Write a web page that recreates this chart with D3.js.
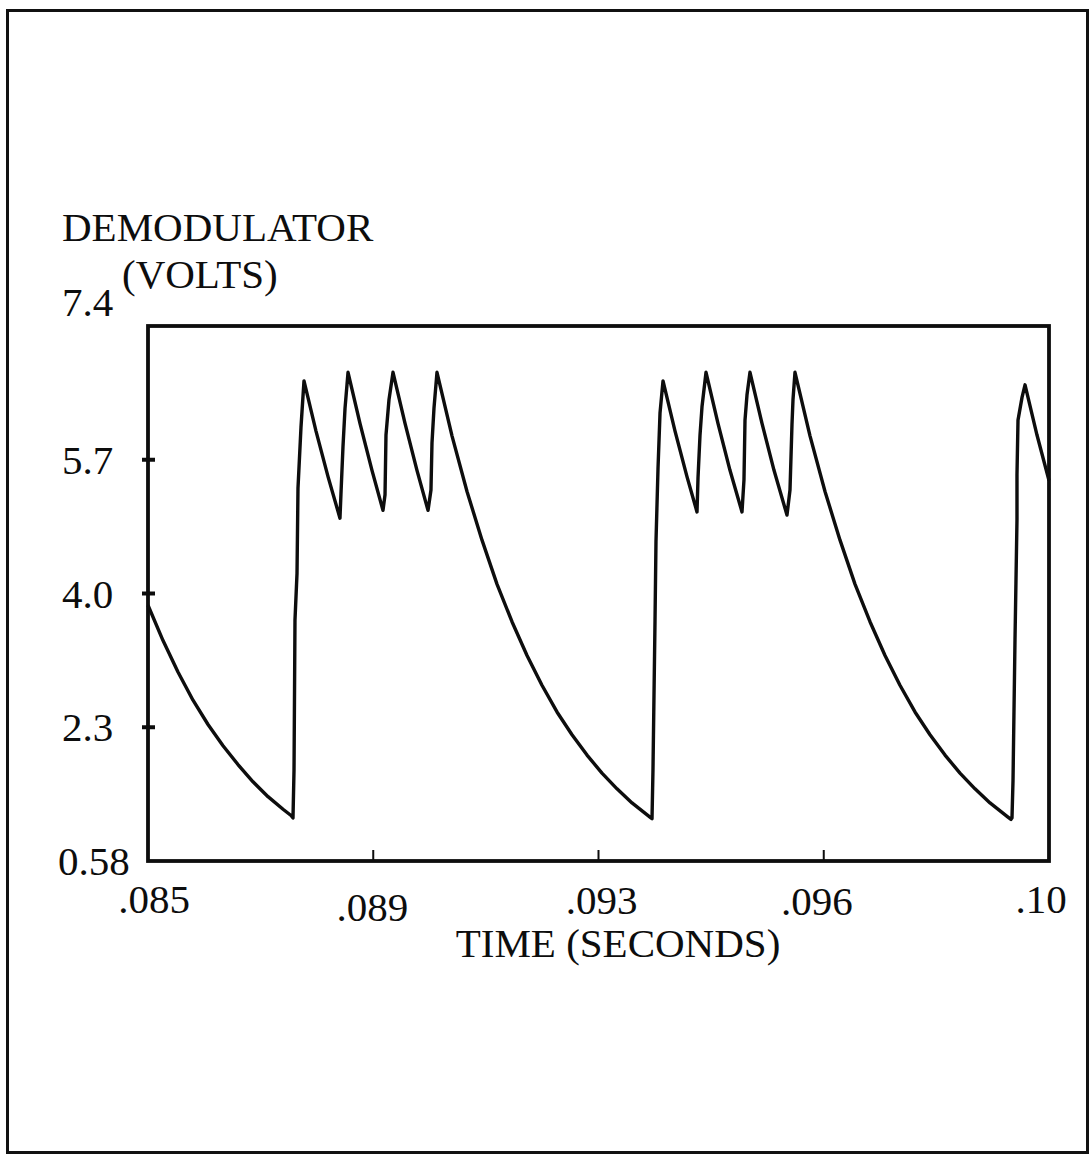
<!DOCTYPE html>
<html>
<head>
<meta charset="utf-8">
<script src="https://cdn.jsdelivr.net/npm/d3@7"></script>
<style>
  html, body { margin: 0; padding: 0; background: #fff; }
  svg { display: block; }
  text { font-family: "Liberation Serif", "Times New Roman", serif; fill: #0d0d0d; }
</style>
</head>
<body>
<svg id="chart" width="1091" height="1157"></svg>
<script>
// ---- data ----
const timeSeconds = [
  0.085000, 0.085250, 0.085499, 0.085749, 0.085999, 0.086249, 0.086498, 0.086748, 0.086998, 0.087248, 0.087381,
  0.087414, 0.087431, 0.087447, 0.087481, 0.087497, 0.087547, 0.087597,
  0.087797, 0.087997, 0.088196,
  0.088213, 0.088246, 0.088280, 0.088330,
  0.088529, 0.088729, 0.088912,
  0.088946, 0.088962, 0.089012, 0.089079,
  0.089279, 0.089478, 0.089662,
  0.089711, 0.089728, 0.089761, 0.089811,
  0.090061, 0.090311, 0.090561, 0.090810, 0.091060, 0.091310, 0.091559, 0.091809, 0.092059, 0.092309, 0.092558, 0.092808, 0.093058, 0.093357,
  0.093391, 0.093407, 0.093441, 0.093457, 0.093491, 0.093524, 0.093574,
  0.093774, 0.093973, 0.094140,
  0.094157, 0.094190, 0.094223, 0.094290,
  0.094489, 0.094689, 0.094889,
  0.094922, 0.094939, 0.094972, 0.095022,
  0.095222, 0.095422, 0.095638,
  0.095688, 0.095721, 0.095738, 0.095771,
  0.096021, 0.096271, 0.096521, 0.096770, 0.097020, 0.097270, 0.097519, 0.097769, 0.098019, 0.098269, 0.098518, 0.098768, 0.099018, 0.099317, 0.099367,
  0.099384, 0.099401, 0.099434, 0.099467, 0.099467, 0.099484, 0.099551, 0.099601,
  0.099800, 0.100000
];
const demodVolts = [
  3.84, 3.39, 2.99, 2.63, 2.32, 2.05, 1.81, 1.59, 1.40, 1.24, 1.16,
  1.13, 1.74, 3.65, 4.25, 5.33, 6.11, 6.70,
  6.06, 5.48, 4.95,
  5.27, 5.86, 6.35, 6.81,
  6.16, 5.56, 5.05,
  5.25, 6.01, 6.46, 6.81,
  6.16, 5.56, 5.05,
  5.31, 5.91, 6.35, 6.81,
  6.00, 5.29, 4.67, 4.11, 3.63, 3.20, 2.82, 2.48, 2.19, 1.93, 1.70, 1.50, 1.32, 1.14,
  1.12, 1.74, 3.65, 4.65, 5.59, 6.29, 6.70,
  6.06, 5.48, 5.03,
  5.47, 6.01, 6.37, 6.81,
  6.16, 5.56, 5.03,
  5.44, 6.20, 6.52, 6.81,
  6.16, 5.56, 4.99,
  5.31, 6.14, 6.46, 6.81,
  6.00, 5.29, 4.67, 4.11, 3.63, 3.20, 2.82, 2.48, 2.19, 1.93, 1.70, 1.50, 1.32, 1.14, 1.11,
  1.13, 1.61, 3.40, 4.93, 5.50, 6.20, 6.49, 6.65,
  6.01, 5.43
];
const xTickValues = [0.085, 0.08875, 0.0925, 0.09625, 0.100];
const xTickLabels = [".085", ".089", ".093", ".096", ".10"];
const yTickValues = [0.58, 2.285, 3.99, 5.695, 7.4];
const yTickLabels = ["0.58", "2.3", "4.0", "5.7", "7.4"];
const yTitleLines = ["DEMODULATOR", "(VOLTS)"];
const xTitle = "TIME (SECONDS)";

// ---- layout ----
const svg = d3.select("#chart");
const plot = { left: 148, right: 1049, top: 326, bottom: 861 };
const fontSize = 41;

const x = d3.scaleLinear().domain([0.085, 0.100]).range([plot.left, plot.right]);
const y = d3.scaleLinear().domain([0.58, 7.4]).range([plot.bottom, plot.top]);

// outer page border
svg.append("rect")
  .attr("x", 7.5).attr("y", 10.5).attr("width", 1080).attr("height", 1142)
  .attr("fill", "none").attr("stroke", "#111").attr("stroke-width", 3);

// plot frame
svg.append("rect")
  .attr("x", x(0.085)).attr("y", y(7.4))
  .attr("width", x(0.100) - x(0.085)).attr("height", y(0.58) - y(7.4))
  .attr("fill", "none").attr("stroke", "#0d0d0d").attr("stroke-width", 3.8);

// y ticks (short marks crossing the left axis)
svg.append("g").selectAll("line")
  .data(yTickValues.slice(1, -1))
  .join("line")
  .attr("x1", plot.left - 6).attr("x2", plot.left + 7)
  .attr("y1", d => y(d)).attr("y2", d => y(d))
  .attr("stroke", "#0d0d0d").attr("stroke-width", 4);

// x ticks (inward from bottom axis)
svg.append("g").selectAll("line")
  .data(xTickValues.slice(1, -1))
  .join("line")
  .attr("x1", d => x(d)).attr("x2", d => x(d))
  .attr("y1", plot.bottom).attr("y2", plot.bottom - 11)
  .attr("stroke", "#0d0d0d").attr("stroke-width", 2);

// y tick labels
svg.append("g").selectAll("text")
  .data(yTickValues)
  .join("text")
  .attr("x", (d, i) => i === 0 ? 58 : 62)
  .attr("y", (d, i) => y(d) + (i === yTickValues.length - 1 ? -10 : 14))
  .attr("font-size", fontSize)
  .text((d, i) => yTickLabels[i]);

// x tick labels
const xLabelShift = [6, -1, 3, -7, -8];
const xLabelDrop = [52, 60, 53, 54, 52];
svg.append("g").selectAll("text")
  .data(xTickValues)
  .join("text")
  .attr("x", (d, i) => x(d) + xLabelShift[i])
  .attr("y", (d, i) => plot.bottom + xLabelDrop[i])
  .attr("text-anchor", "middle")
  .attr("font-size", fontSize)
  .text((d, i) => xTickLabels[i]);

// axis titles
svg.append("text").attr("x", 62).attr("y", 241).attr("font-size", fontSize).text(yTitleLines[0]);
svg.append("text").attr("x", 122).attr("y", 288).attr("font-size", fontSize).text(yTitleLines[1]);
svg.append("text").attr("x", 618).attr("y", 957).attr("text-anchor", "middle").attr("font-size", fontSize).text(xTitle);

// waveform
const series = timeSeconds.map((t, i) => ({ t, v: demodVolts[i] }));
svg.append("path")
  .datum(series)
  .attr("fill", "none")
  .attr("stroke", "#0d0d0d")
  .attr("stroke-width", 3.4)
  .attr("stroke-linejoin", "round")
  .attr("d", d3.line().x(d => x(d.t)).y(d => y(d.v)).curve(d3.curveLinear));
</script>
</body>
</html>
